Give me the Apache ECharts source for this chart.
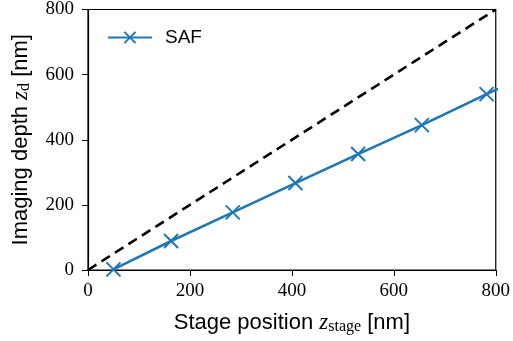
<!DOCTYPE html>
<html>
<head>
<meta charset="utf-8">
<script src="https://cdn.jsdelivr.net/npm/echarts@6/dist/echarts.min.js"></script>
<style>
  html, body { margin: 0; padding: 0; background: #fff; }
  #chart { width: 513px; height: 341px; }
</style>
</head>
<body>
<div id="chart"></div>
<script>
// stage position z_stage [nm]
const stagePos = [50, 163, 284, 407, 530, 655, 782, 905];
// imaging depth z_d [nm] (SAF)
const safDepth = [2, 89, 177, 267, 356, 445, 540, 628];
// reference line z_d = z_stage
const refLine = [[0, 0], [800, 800]];
const axisTicks = [0, 200, 400, 600, 800];

const serif = '"Liberation Serif", "DejaVu Serif", serif';
const sans = '"Liberation Sans", Arial, sans-serif';

const nameRich = {
  n: { fontFamily: sans, fontSize: 22, color: '#000' },
  z: { fontFamily: serif, fontStyle: 'italic', fontSize: 23, color: '#000' },
  s: { fontFamily: serif, fontSize: 16, color: '#000', verticalAlign: 'bottom', padding: [9, 0, 0, 0] },
};

const chart = echarts.init(document.getElementById('chart'), null, { renderer: 'canvas' });

chart.setOption({
  animation: false,
  grid: {
    left: 88,
    right: 14,
    top: 9,
    bottom: 71,
    show: true,
    borderColor: '#000',
    borderWidth: 1.2,
  },
  legend: {
    left: 102,
    top: 23,
    itemWidth: 44,
    itemHeight: 14,
    itemGap: 10,
    textStyle: { fontFamily: sans, fontSize: 19, color: '#000', padding: [0, 0, 0, 8] },
    data: ['SAF'],
  },
  xAxis: {
    type: 'value',
    min: axisTicks[0],
    max: axisTicks[axisTicks.length - 1],
    interval: 200,
    name: '{n|Stage position }{z|z}{s|stage}{n| [nm]}',
    nameLocation: 'middle',
    nameGap: 40,
    nameTextStyle: { rich: nameRich },
    axisLine: { lineStyle: { color: '#000', width: 1.2 } },
    axisTick: { show: true, length: 6, inside: false, lineStyle: { color: '#000' } },
    axisLabel: { fontFamily: serif, fontSize: 19, color: '#000', margin: 12 },
    splitLine: { show: false },
  },
  yAxis: {
    type: 'value',
    min: axisTicks[0],
    max: axisTicks[axisTicks.length - 1],
    interval: 200,
    name: '{n|Imaging depth }{z|z}{s|d}{n| [nm]}',
    nameLocation: 'middle',
    nameGap: 55,
    nameTextStyle: { rich: nameRich },
    axisLine: { lineStyle: { color: '#000', width: 1.2 } },
    axisTick: { show: true, length: 6, inside: false, lineStyle: { color: '#000' } },
    axisLabel: { fontFamily: serif, fontSize: 19, color: '#000', margin: 14 },
    splitLine: { show: false },
  },
  series: [
    {
      name: 'ref',
      type: 'line',
      data: refLine,
      symbol: 'none',
      silent: true,
      lineStyle: { color: '#000', width: 2.6, type: [10, 6] },
      z: 3,
    },
    {
      name: 'SAF',
      type: 'line',
      data: stagePos.map((x, i) => [x, safDepth[i]]),
      symbol: 'path://M0,0L10,10M10,0L0,10',
      symbolSize: 14,
      showAllSymbol: true,
      clip: true,
      itemStyle: { color: '#1f77b4', borderColor: '#1f77b4', borderWidth: 2 },
      lineStyle: { color: '#1f77b4', width: 2.6 },
      z: 4,
    },
  ],
});
</script>
</body>
</html>
